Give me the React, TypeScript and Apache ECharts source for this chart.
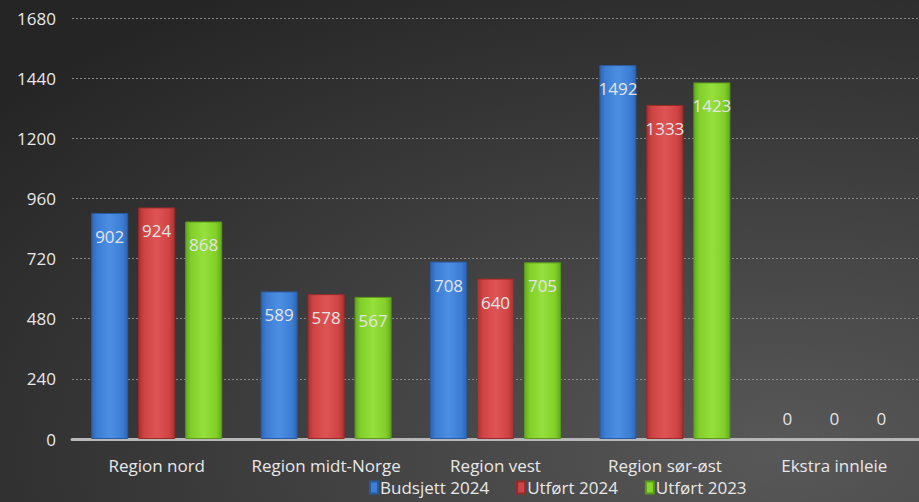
import React, { useEffect, useRef } from "react";
import * as echarts from "echarts";

const categories = ["Region nord", "Region midt-Norge", "Region vest", "Region sør-øst", "Ekstra innleie"];
const budsjett2024 = [902, 589, 708, 1492, 0];
const utfort2024 = [924, 578, 640, 1333, 0];
const utfort2023 = [868, 567, 705, 1423, 0];
const seriesNames = ["Budsjett 2024", "Utført 2024", "Utført 2023"];
const yTicks = [0, 240, 480, 720, 960, 1200, 1440, 1680];

const FONT = "'Open Sans', sans-serif";

function barGradient(dark: string, mid: string, light: string) {
  return new echarts.graphic.LinearGradient(0, 0, 1, 0, [
    { offset: 0, color: dark },
    { offset: 0.15, color: mid },
    { offset: 0.5, color: light },
    { offset: 0.85, color: mid },
    { offset: 1, color: dark },
  ]);
}

export default function App() {
  const ref = useRef<HTMLDivElement>(null);
  useEffect(() => {
    if (!ref.current) return;
    const chart = echarts.init(ref.current, undefined, { renderer: "svg" });
    const colors = [
      { base: "#3d7fd6", g: barGradient("#2f66b2", "#3c7dd4", "#4c8fe2"), border: "#2a5aa0" },
      { base: "#d24545", g: barGradient("#aa3232", "#cf4343", "#de5454"), border: "#9a2a2a" },
      { base: "#86d62c", g: barGradient("#62aa1e", "#82cf2a", "#95e03c"), border: "#5a9a1a" },
    ];
    const datas = [budsjett2024, utfort2024, utfort2023];
    const series = datas.map((d, i) => ({
      name: seriesNames[i],
      type: "bar",
      barWidth: 37,
      barGap: "27%",
      itemStyle: { color: colors[i].g, borderColor: colors[i].border, borderWidth: 1 },
      data: d.map((v) =>
        v === 0
          ? {
              value: v,
              itemStyle: { borderWidth: 0, color: "rgba(0,0,0,0)" },
              label: { position: "top", distance: 12 },
            }
          : { value: v }
      ),
      label: {
        show: true,
        position: "insideTop",
        distance: 15,
        color: "#e4e4e4",
        fontSize: 17,
        fontFamily: FONT,
      },
    }));
    chart.setOption({
      animation: false,
      backgroundColor: new echarts.graphic.RadialGradient(0.85, 0.9, 1.1, [
        { offset: 0, color: "#585858" },
        { offset: 1, color: "#252525" },
      ]),
      grid: { left: 72, right: 0, top: 18, bottom: 63, containLabel: false },
      legend: {
        bottom: 1,
        left: 364,
        itemWidth: 8,
        itemHeight: 12,
        itemGap: 27,
        icon: "rect",
        textStyle: { color: "#e8e8e8", fontSize: 17, fontFamily: FONT, padding: [0, 0, 0, -3] },
        data: seriesNames.map((n, i) => ({ name: n, itemStyle: { color: colors[i].base } })),
      },
      xAxis: {
        type: "category",
        data: categories,
        axisTick: { show: false },
        axisLine: { lineStyle: { color: "#b8b8b8", width: 3, type: [2, 1] } },
        axisLabel: { color: "#e8e8e8", fontSize: 17, fontFamily: FONT, margin: 18, interval: 0 },
      },
      yAxis: {
        type: "value",
        min: yTicks[0],
        max: yTicks[yTicks.length - 1],
        interval: 240,
        axisLine: { show: false },
        axisTick: { show: false },
        axisLabel: { color: "#e8e8e8", fontSize: 17, fontFamily: FONT, margin: 16, formatter: (v: number) => String(v) },
        splitLine: { lineStyle: { color: "#8a8a8a", width: 1, type: [2, 2] } },
      },
      series,
    });
    return () => chart.dispose();
  }, []);
  return <div ref={ref} style={{ width: 919, height: 502, position: "absolute", left: 0, top: 0 }} />;
}
